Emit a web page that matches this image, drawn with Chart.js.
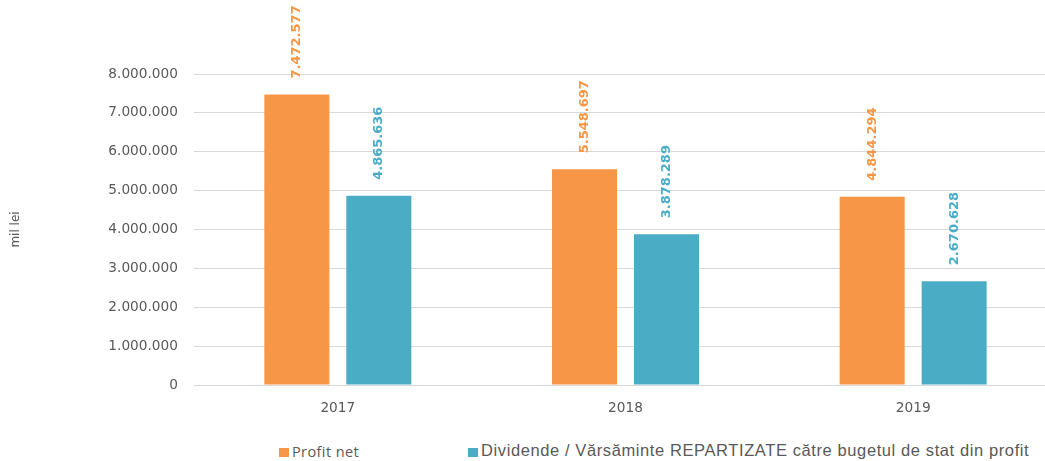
<!DOCTYPE html>
<html>
<head>
<meta charset="utf-8">
<script src="https://cdn.jsdelivr.net/npm/chart.js@4/dist/chart.umd.min.js"></script>
<style>
  html, body { margin: 0; padding: 0; background: #fff; overflow: hidden; }
  #wrap { position: relative; width: 1060px; height: 461px; }
  #box { position: absolute; left: 0; top: 0; width: 1060px; height: 430px; }
  .sq { position: absolute; width: 10px; height: 9px; }
  .txt { position: absolute; color: #595959; white-space: nowrap; }
</style>
</head>
<body>
<div id="wrap">
  <div id="box"><canvas id="chart"></canvas></div>
  <!-- legenda -->
  <div class="sq" style="left:279px; top:448px; background:#F79646"></div>
  <div class="txt" id="leg0" style="left:292px; top:445.2px; font:14.5px/14.5px 'Open Sans', sans-serif; letter-spacing:0.4px"></div>
  <div class="sq" style="left:468px; top:448px; background:#4BACC6"></div>
  <div class="txt" id="leg1" style="left:481px; top:441.7px; font:16.5px/16.5px 'Liberation Sans', Arial, sans-serif; letter-spacing:0.6px"></div>
</div>
<script>
// date (mii lei)
const years = ['2017', '2018', '2019'];
const profitNet = [7472577, 5548697, 4844294];
const dividende = [4865636, 3878289, 2670628];
const seriesNames = ['Profit net', 'Dividende / Vărsăminte REPARTIZATE către bugetul de stat din profit'];
const colors = ['#F79646', '#4BACC6'];

document.getElementById('leg0').textContent = seriesNames[0];
document.getElementById('leg1').textContent = seriesNames[1];

// 1234567 -> 1.234.567
function fmt(v) {
    return String(v).replace(/\B(?=(\d{3})+(?!\d))/g, '.');
}

// etichete verticale deasupra barelor
const barLabels = {
    id: 'barLabels',
    afterDatasetsDraw(chart) {
        const c = chart.ctx;
        chart.data.datasets.forEach((ds, i) => {
            const meta = chart.getDatasetMeta(i);
            meta.data.forEach((bar, j) => {
                c.save();
                c.translate(bar.x, bar.y - 16);
                c.rotate(-Math.PI / 2);
                c.font = 'bold 13px "DejaVu Sans", sans-serif';
                c.fillStyle = colors[i];
                c.textAlign = 'left';
                c.textBaseline = 'middle';
                c.fillText(fmt(ds.data[j]), 0, 0);
                c.restore();
            });
        });
    }
};

const tickFont = { family: '"DejaVu Sans", sans-serif', size: 13.7 };

new Chart(document.getElementById('chart'), {
    type: 'bar',
    data: {
        labels: years,
        datasets: [
            { label: seriesNames[0], data: profitNet, backgroundColor: colors[0] },
            { label: seriesNames[1], data: dividende, backgroundColor: colors[1] }
        ]
    },
    options: {
        responsive: true,
        maintainAspectRatio: false,
        animation: false,
        categoryPercentage: 0.57,
        barPercentage: 0.793,
        layout: { padding: { top: 74, right: 3, left: 0, bottom: 0 } },
        plugins: {
            legend: { display: false },
            tooltip: { enabled: false }
        },
        scales: {
            y: {
                min: 0,
                max: 8000000,
                afterFit(scale) { scale.width = 194; },
                ticks: {
                    stepSize: 1000000,
                    padding: 16,
                    color: '#595959',
                    font: tickFont,
                    callback: v => fmt(v)
                },
                grid: { color: '#d9d9d9', drawTicks: false },
                border: { display: false },
                title: {
                    display: true,
                    text: 'mil lei',
                    color: '#595959',
                    font: { family: '"DejaVu Sans", sans-serif', size: 12 },
                    padding: { top: 9, bottom: 0 }
                }
            },
            x: {
                afterFit(scale) { scale.height = 45; },
                ticks: { color: '#595959', font: tickFont, padding: 15 },
                grid: { display: false, drawTicks: false },
                border: { color: '#d9d9d9' }
            }
        }
    },
    plugins: [barLabels]
});
</script>
</body>
</html>
